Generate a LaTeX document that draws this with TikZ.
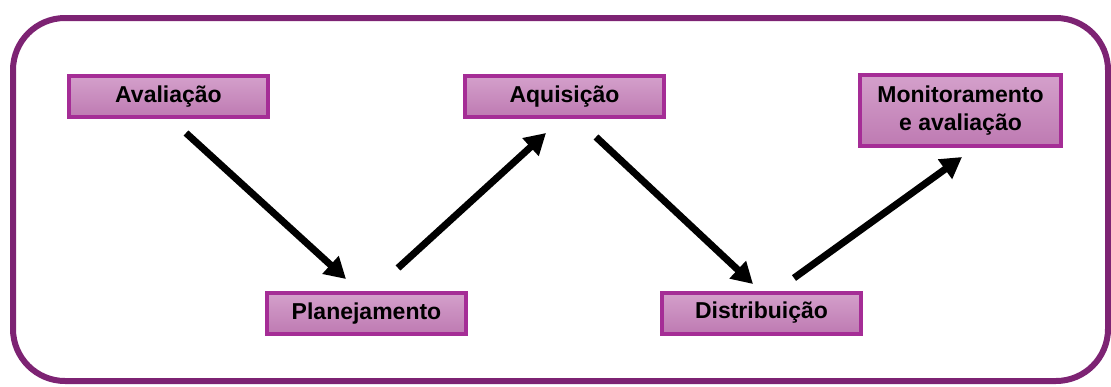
\documentclass[tikz,border=0pt]{standalone}
\usepackage{fontspec}
\setmainfont{Liberation Sans}
\usetikzlibrary{arrows.meta}
\definecolor{framecol}{RGB}{125,35,115}
\definecolor{boxborder}{RGB}{165,45,150}
\definecolor{boxtop}{RGB}{212,160,203}
\definecolor{boxbot}{RGB}{190,122,178}
\tikzset{
  stagebox/.style={draw=boxborder, line width=4pt, top color=boxtop, bottom color=boxbot,
    minimum width=199pt, minimum height=41pt, inner sep=0pt, align=center,
    font=\fontsize{23}{28}\selectfont\bfseries},
  flowarrow/.style={line width=7pt, -{Triangle[length=21pt,width=23pt]}}
}
\begin{document}
\begin{tikzpicture}[x=1pt,y=-1pt]
\useasboundingbox (0,0) rectangle (1111,386);
\draw[framecol, line width=6pt, rounded corners=52pt] (13,18) rectangle (1108,381);
\node[stagebox] (aval) at (168.5,96.5) {Avaliação};
\node[stagebox] (aqui) at (564.5,96.5) {Aquisição};
\node[stagebox, minimum width=201pt, minimum height=71pt] (moni) at (960.5,110.5) {Monitoramento\\e avaliação};
\node[stagebox] (plan) at (366.5,313.5) {Planejamento};
\node[stagebox] (dist) at (761.5,313) {Distribuição};
\coordinate (a1s) at (186,133);
\coordinate (a1e) at (346,279);
\coordinate (a2s) at (398,268);
\coordinate (a2e) at (546,133);
\coordinate (a3s) at (596,137);
\coordinate (a3e) at (753,284);
\coordinate (a4s) at (794,278);
\coordinate (a4e) at (962,157);
\draw[flowarrow] (a1s) -- (a1e);
\draw[flowarrow] (a2s) -- (a2e);
\draw[flowarrow] (a3s) -- (a3e);
\draw[flowarrow] (a4s) -- (a4e);
\end{tikzpicture}
\end{document}
